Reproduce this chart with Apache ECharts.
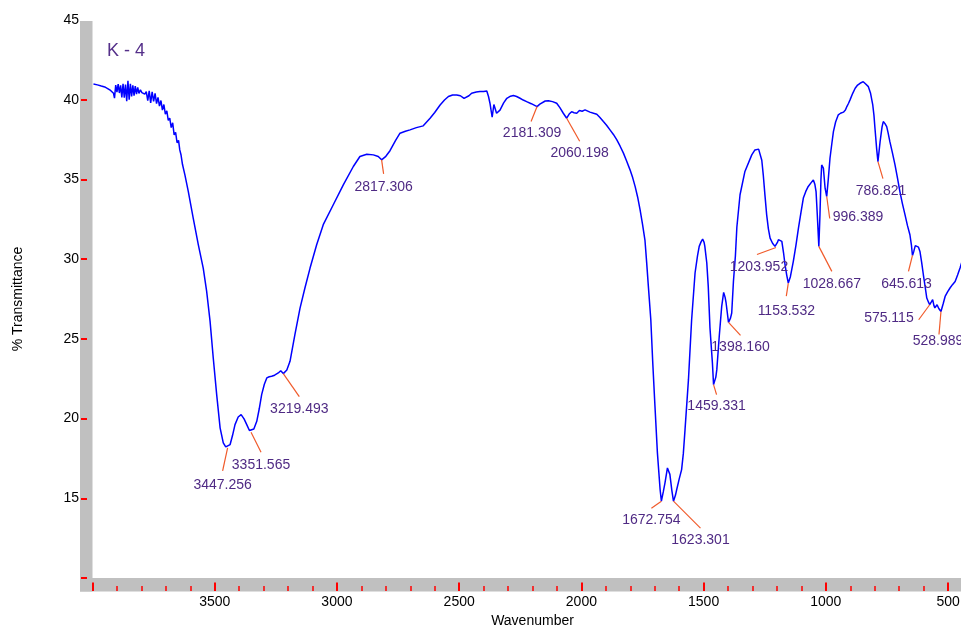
<!DOCTYPE html>
<html>
<head>
<meta charset="utf-8">
<script src="https://cdn.jsdelivr.net/npm/echarts@6/dist/echarts.min.js"></script>
<style>html,body{margin:0;padding:0;background:#fff}#c{width:961px;height:628px}</style>
</head>
<body>
<div id="c"></div>
<script>
// ---- data ----
const wavenumber = [
3996,3988,3980,3972,3964,3956,3950,3944,3938,3932,3926,3920,3914,3910,3905,3900,3895,3890,3885,3880,
3875,3870,3865,3860,3855,3850,3845,3840,3835,3830,3825,3820,3815,3810,3804,3798,3792,3786,3780,3774,
3768,3762,3756,3750,3744,3738,3732,3726,3720,3714,3708,3702,3696,3690,3684,3678,3672,3666,3660,3654,
3648,3643,3638,3632,3622,3608,3588,3567,3547,3533,3519,3506,3492,3478,3465,3455,3447.256,3437,3427,3417,
3404,3392,3380,3369,3358,3351.565,3340,3328,3318,3308,3297,3287,3277,3267,3255,3240,3230,3219.493,3205,3192,
3172,3151,3131,3110,3083,3056,3015,2974,2933,2906,2878,2851,2831,2817.306,2800,2783,2760,2742,2720,2701,
2675,2647,2633,2619,2600,2578,2560,2544,2527,2510,2495,2480,2472,2460,2449,2430,2415,2400,2387,2380,
2374,2365,2358,2352,2347,2333,2318,2305,2290,2278,2265,2251,2238,2224,2205,2181.309,2170,2162,2148,2135,
2118,2101,2088,2074,2060.198,2050,2040,2030,2019,2008,1997,1985,1965,1950,1937,1925,1910,1897,1883,1869,
1855,1842,1828,1815,1801,1790,1780,1770,1760,1750,1740,1733,1726,1716,1708,1699,1689,1678,1672.754,1665,
1658,1648,1644,1638,1630,1623.301,1615,1610,1600,1590,1583,1576,1562,1549,1535,1525,1518,1510,1504,1498,
1495,1487,1481,1474,1464,1459.331,1450,1446,1436,1426,1418,1412,1408,1398.160,1390,1385,1378,1370,1364,1351,
1331,1303,1290,1283,1275,1269,1262,1256,1249,1242,1235,1228,1218,1208,1203.952,1198,1194,1186,1180,1173,
1167,1160,1153.532,1145,1133,1122,1112,1102,1092,1082,1072,1060,1051,1045,1040,1035,1028.667,1024,1020,1017,
1013,1010,1003,996.389,990,983,975,969,960,949,940,933,928,920,914,907,901,890,880,870,
860,847,838,826,817,808,803,799,792,786.821,782,778,770,765,758,751,745,738,728,717,
707,697,687,676,666,656,650,645.613,640,634,628,621,615,608,601,594,587,580,575.115,569,
563,558,554,549,545,538,528.989,520,512,502,492,482,471,461,451,440,430
];
const transmittance = [
40.98,40.95,40.93,40.90,40.86,40.82,40.80,40.84,40.70,40.76,40.58,40.66,40.40,40.10,40.92,40.48,40.98,40.42,40.90,40.15,
41.00,40.12,40.95,39.90,41.18,40.00,41.00,40.20,40.90,40.25,40.85,40.35,40.78,40.40,40.62,40.45,40.55,40.35,40.50,39.95,
40.55,39.80,40.50,39.90,40.40,39.75,40.15,39.60,39.95,39.35,39.70,39.10,39.30,38.70,38.85,38.25,38.55,37.80,37.95,37.30,
37.45,36.85,36.55,35.95,35.29,34.24,32.57,30.90,29.44,27.98,26.10,23.80,21.50,19.42,18.48,18.22,18.16,18.37,18.95,19.62,
20.10,20.25,19.98,19.62,19.25,19.14,19.35,19.83,20.60,21.50,22.15,22.55,22.62,22.65,22.72,22.86,23.00,22.82,23.05,23.59,
25.26,26.93,28.19,29.44,30.90,32.16,33.41,34.66,35.81,36.44,36.58,36.54,36.44,36.23,36.45,36.80,37.45,37.90,38.02,38.11,
38.25,38.36,38.60,38.84,39.20,39.67,39.98,40.20,40.30,40.30,40.25,40.08,40.05,40.25,40.41,40.48,40.51,40.52,40.55,40.20,
39.78,38.90,39.70,39.60,39.15,39.35,39.80,40.09,40.22,40.26,40.20,40.09,39.98,39.88,39.75,39.57,39.72,39.82,39.92,39.94,
39.88,39.78,39.50,39.15,38.84,39.10,39.25,39.18,39.15,39.32,39.28,39.36,39.22,39.15,39.09,38.90,38.63,38.40,38.11,37.82,
37.48,37.10,36.65,36.15,35.60,35.10,34.55,33.90,33.10,32.20,31.20,29.80,28.29,26.20,23.49,20.77,17.85,15.55,14.82,15.40,
15.97,16.90,16.97,16.50,15.50,14.82,15.20,15.55,16.20,16.80,17.80,19.31,22.44,26.20,29.13,30.20,30.80,31.10,31.26,31.05,
30.80,29.76,28.29,25.70,23.49,22.13,22.60,23.07,25.16,27.04,27.91,27.60,27.25,26.03,26.30,26.62,28.60,30.20,32.00,34.04,
35.50,36.54,36.85,36.92,36.90,36.79,36.20,35.29,34.00,32.78,31.90,31.32,31.00,30.80,30.73,31.05,31.22,31.25,31.11,30.40,
29.65,29.00,28.50,28.90,29.86,30.90,31.95,32.90,33.83,34.25,34.56,34.80,34.97,34.70,34.24,32.80,30.80,32.78,35.00,35.91,
35.85,35.71,34.45,33.93,35.00,36.33,37.30,38.00,38.60,39.05,39.15,39.10,39.22,39.35,39.57,39.78,39.99,40.40,40.72,40.92,
41.03,41.13,41.00,40.82,40.40,39.67,39.00,38.21,36.90,36.12,36.80,37.37,38.30,38.63,38.50,38.31,37.90,37.37,36.70,35.91,
35.10,34.24,33.50,32.78,32.10,31.53,30.90,30.23,30.50,30.85,30.90,30.75,30.48,29.80,29.02,28.30,27.56,27.30,27.14,27.30,
27.46,27.10,26.94,27.05,27.14,26.90,26.72,27.20,27.66,27.95,28.19,28.40,28.60,29.00,29.44,30.00,30.40
];
const peakWavenumbers = [3447.256,3351.565,3219.493,2817.306,2181.309,2060.198,1672.754,1623.301,1459.331,
  1398.160,1203.952,1153.532,1028.667,996.389,786.821,645.613,575.115,528.989];
const peakValues = [18.16,19.14,22.82,36.23,39.57,38.84,14.82,14.82,22.13,
  26.03,30.73,28.50,30.80,33.93,36.12,30.23,27.14,26.72];
const peakLabels = ['3447.256','3351.565','3219.493','2817.306','2181.309','2060.198','1672.754','1623.301','1459.331',
  '1398.160','1203.952','1153.532','1028.667','996.389','786.821','645.613','575.115','528.989'];
const xMajorTicks = [4000,3500,3000,2500,2000,1500,1000,500];
const xTickLabels = [3500,3000,2500,2000,1500,1000,500];
const yTickLabels = [15,20,25,30,35,40,45];
const yTicks = [10,15,20,25,30,35,40];
const sampleName = 'K - 4';

// ---- layout (pixel offsets of callouts relative to their peak) ----
// [leaderEndDx, leaderEndDy, textDx, textDy, align]
const callouts = [
  [-5,23,-5,37,'center'],[10,20,10,33,'center'],[16,23,16,36,'center'],[2,14,2,27,'center'],
  [-6,15,-5,27,'center'],[13,23,13,35,'center'],[-10,7,-10,19,'center'],[27,27,27,39,'center'],
  [3,10,3,22,'center'],[12,13,12,25,'center'],[-19,7,-17,20,'center'],[-2,13,-2,28,'center'],
  [13,25,13,38,'center'],[3,22,6,21,'left'],[5,17,3,30,'center'],[-4,16,-6,29,'center'],
  [-11,15,-16,13,'right'],[-2,23,-3,30,'center']
];

const xMinorTicks = [];
for (let v = 400; v <= 4000; v += 100) if (v % 500 !== 0) xMinorTicks.push(v);

const FONT = '"Liberation Sans", Arial, sans-serif';
const LABEL_COLOR = '#4f2a84';
const plain = v => String(v);
const chart = echarts.init(document.getElementById('c'), null, {renderer: 'canvas'});

chart.setOption({
  animation: false,
  backgroundColor: '#ffffff',
  title: {text: sampleName, left: 107, top: 42, padding: 0, textStyle: {color: '#55308a', fontSize: 18, fontWeight: 'normal', fontFamily: FONT}},
  grid: {left: 92.5, top: 20, width: 880, height: 558, containLabel: false, outerBoundsMode: 'none'},
  graphic: [
    {type: 'rect', z: 0, shape: {x: 80, y: 21, width: 12.5, height: 570.5}, style: {fill: '#c0c0c0'}},
    {type: 'rect', z: 0, shape: {x: 80, y: 578, width: 900, height: 13.5}, style: {fill: '#c0c0c0'}}
  ],
  xAxis: [{
    type: 'value', min: 400, max: 4000, interval: 100, inverse: true, position: 'bottom', offset: 13, z: 5,
    axisLine: {show: false}, splitLine: {show: false},
    axisTick: {show: true, inside: true, length: 8.5, customValues: xMajorTicks, lineStyle: {color: '#ff0000', width: 2}},
    axisLabel: {customValues: xTickLabels, formatter: plain, margin: 4, color: '#000', fontSize: 14, fontFamily: FONT},
    name: 'Wavenumber', nameLocation: 'middle', nameGap: 22,
    nameTextStyle: {color: '#000', fontSize: 14, fontFamily: FONT, verticalAlign: 'top'}
  }, {
    type: 'value', min: 400, max: 4000, interval: 100, inverse: true, position: 'bottom', offset: 13, z: 5,
    axisLine: {show: false}, splitLine: {show: false},
    axisTick: {show: true, inside: true, length: 5, customValues: xMinorTicks, lineStyle: {color: '#ff0000', width: 1.5}},
    axisLabel: {show: false}
  }],
  yAxis: {
    type: 'value', min: 10, max: 45, interval: 5, offset: 5.5, z: 5,
    axisLine: {show: false}, splitLine: {show: false},
    axisTick: {show: true, inside: false, length: 6, customValues: yTicks, lineStyle: {color: '#ff0000', width: 2}},
    axisLabel: {customValues: yTickLabels, formatter: plain, margin: 8, color: '#000', fontSize: 14, fontFamily: FONT},
    name: '% Transmittance', nameLocation: 'middle', nameGap: 62, nameRotate: 90,
    nameTextStyle: {color: '#000', fontSize: 14, fontFamily: FONT}
  },
  series: [{
    type: 'line', xAxisIndex: 0, showSymbol: false, silent: true,
    data: wavenumber.map((w, i) => [w, transmittance[i]]),
    lineStyle: {color: '#0000ff', width: 1.5}
  }, {
    type: 'custom', xAxisIndex: 0, silent: true, z: 4,
    data: peakWavenumbers.map((w, i) => [w, peakValues[i]]),
    renderItem: function (params, api) {
      const i = params.dataIndex;
      const p = api.coord([api.value(0), api.value(1)]);
      const o = callouts[i];
      return {
        type: 'group',
        children: [
          {type: 'line', shape: {x1: p[0], y1: p[1], x2: p[0] + o[0], y2: p[1] + o[1]},
           style: {stroke: '#f05a2a', lineWidth: 1.2}},
          {type: 'text', x: p[0] + o[2], y: p[1] + o[3],
           style: {text: peakLabels[i], fill: LABEL_COLOR, font: '14px ' + FONT, align: o[4], verticalAlign: 'middle'}}
        ]
      };
    }
  }]
});
</script>
</body>
</html>
